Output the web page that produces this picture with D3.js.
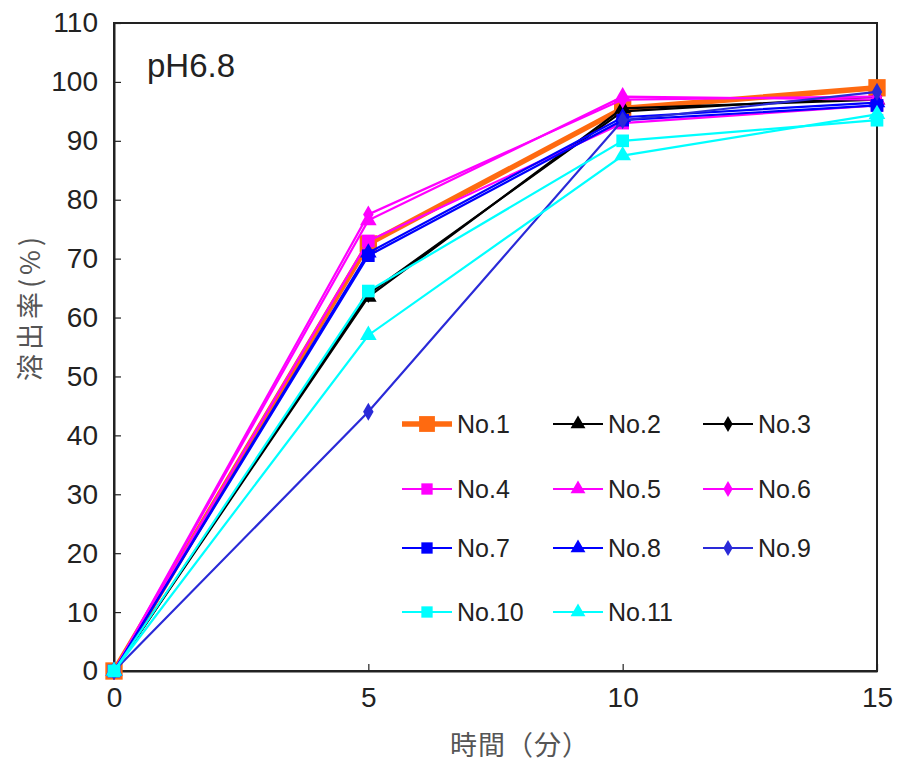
<!DOCTYPE html>
<html>
<head>
  <meta charset="utf-8">
  <script src="https://d3js.org/d3.v7.min.js"></script>
  <style>
    body { margin: 0; background: #fff; }
    .tick text { font-family: "Liberation Sans", Arial, sans-serif; font-size: 28px; fill: #222; }
    .axisTitle { font-family: "Noto Sans CJK JP", sans-serif; font-size: 27px; fill: #555; }
    .legendText { font-family: "Liberation Sans", Arial, sans-serif; font-size: 25px; fill: #222; }
  </style>
</head>
<body>
<script>
  // time points (min)
  var times = [0, 5, 10, 15];
  var xTicks = [0, 5, 10, 15];
  var yTicks = [0, 10, 20, 30, 40, 50, 60, 70, 80, 90, 100, 110];

  // dissolution rate (%) per sample
  var no1 = [0, 72.5, 95.5, 99];
  var no2 = [0, 63.5, 95.5, 97];
  var no3 = [0, 64, 95, 97.5];
  var no4 = [0, 73, 93, 96];
  var no5 = [0, 76.5, 97.5, 97];
  var no6 = [0, 77.5, 97, 97.5];
  var no7 = [0, 70.5, 93.5, 96];
  var no8 = [0, 71, 94, 96.5];
  var no9 = [0, 44, 93.5, 98.3];
  var no10 = [0, 64.5, 90, 93.5];
  var no11 = [0, 57, 87.5, 94.5];

  var seriesNames = ["No.1", "No.2", "No.3", "No.4", "No.5", "No.6", "No.7", "No.8", "No.9", "No.10", "No.11"];
  var seriesValues = [no1, no2, no3, no4, no5, no6, no7, no8, no9, no10, no11];
  var seriesColors = ["#ff6a10", "#000000", "#000000", "#ff00ff", "#ff00ff", "#ff00ff", "#0000ff", "#0000ff", "#2a2ad8", "#00ffff", "#00ffff"];
  var seriesMarkers = ["square", "triangle", "diamond", "square", "triangle", "diamond", "square", "triangle", "diamond", "square", "triangle"];

  var outerWidth = 899, outerHeight = 762;
  var margin = { top: 23, left: 114, right: 22, bottom: 91 };
  var width = outerWidth - margin.left - margin.right,
      height = outerHeight - margin.top - margin.bottom;

  var xScale = d3.scaleLinear().domain([0, 15]).range([0, width]);
  var yScale = d3.scaleLinear().domain([0, 110]).range([height, 0]);

  var svg = d3.select("body").append("svg")
    .attr("width", outerWidth)
    .attr("height", outerHeight);

  var g = svg.append("g")
    .attr("transform", "translate(" + margin.left + "," + margin.top + ")");

  // frame
  g.append("rect")
    .attr("width", width).attr("height", height)
    .attr("fill", "none").attr("stroke", "#222").attr("stroke-width", 2);

  // axes with inward ticks
  var xAxis = g.append("g")
    .attr("transform", "translate(0," + height + ")")
    .call(d3.axisBottom(xScale).tickValues(xTicks).tickSizeInner(-7).tickSizeOuter(0).tickPadding(16));
  var yAxis = g.append("g")
    .call(d3.axisLeft(yScale).tickValues(yTicks).tickSizeInner(-7).tickSizeOuter(0).tickPadding(16));
  [xAxis, yAxis].forEach(function(a) {
    a.select(".domain").attr("stroke", "#222").attr("stroke-width", 2);
    a.selectAll(".tick line").attr("stroke", "#222").attr("stroke-width", 1.2);
  });

  // marker path helper
  function markerPath(type, s) {
    var sym = type === "square" ? d3.symbolSquare : type === "triangle" ? d3.symbolTriangle : d3.symbolDiamond;
    return d3.symbol().type(sym).size(s)();
  }
  function markerSize(i, type) {
    if (i === 0) return 300;
    return type === "diamond" ? 95 : type === "triangle" ? 120 : 160;
  }

  var line = d3.line()
    .x(function(d, i) { return xScale(times[i]); })
    .y(function(d) { return yScale(d); });

  var plot = g.append("g");
  seriesValues.forEach(function(vals, i) {
    var sg = plot.append("g");
    sg.append("path")
      .datum(vals)
      .attr("d", line)
      .attr("fill", "none")
      .attr("stroke", seriesColors[i])
      .attr("stroke-width", i === 0 ? 5.5 : 2.2);
    sg.selectAll("path.pt")
      .data(vals)
      .enter().append("path")
      .attr("class", "pt")
      .attr("d", markerPath(seriesMarkers[i], markerSize(i, seriesMarkers[i])))
      .attr("transform", function(d, j) { return "translate(" + xScale(times[j]) + "," + yScale(d) + ")"; })
      .attr("fill", seriesColors[i]);
  });

  // legend: 3 columns
  var legendX = [402, 553, 703], legendY = [424, 489, 548, 612];
  seriesNames.forEach(function(name, i) {
    var lx = legendX[i % 3], ly = legendY[Math.floor(i / 3)];
    var lg = svg.append("g").attr("transform", "translate(" + lx + "," + ly + ")");
    lg.append("line")
      .attr("x1", 0).attr("x2", 50).attr("y1", 0).attr("y2", 0)
      .attr("stroke", seriesColors[i]).attr("stroke-width", i === 0 ? 5.5 : 2.2);
    lg.append("path")
      .attr("d", markerPath(seriesMarkers[i], i === 0 ? 250 : markerSize(i, seriesMarkers[i]) * 0.8))
      .attr("transform", "translate(25,0)")
      .attr("fill", seriesColors[i]);
    lg.append("text")
      .attr("class", "legendText")
      .attr("x", 55).attr("y", 9)
      .text(name);
  });

  // condition label
  svg.append("text")
    .attr("x", 147).attr("y", 77)
    .attr("font-family", "Liberation Sans, Arial, sans-serif")
    .attr("font-size", 33).attr("fill", "#222")
    .text("pH6.8");

  // axis titles
  svg.append("text")
    .attr("class", "axisTitle")
    .attr("x", 520).attr("y", 755)
    .attr("text-anchor", "middle")
    .attr("letter-spacing", 1)
    .text("時間（分）");
  svg.append("text")
    .attr("class", "axisTitle")
    .attr("transform", "translate(40,307) rotate(-90)")
    .attr("text-anchor", "middle")
    .attr("font-size", 28)
    .attr("letter-spacing", 4)
    .text("溶出率(%)");
</script>
</body>
</html>
